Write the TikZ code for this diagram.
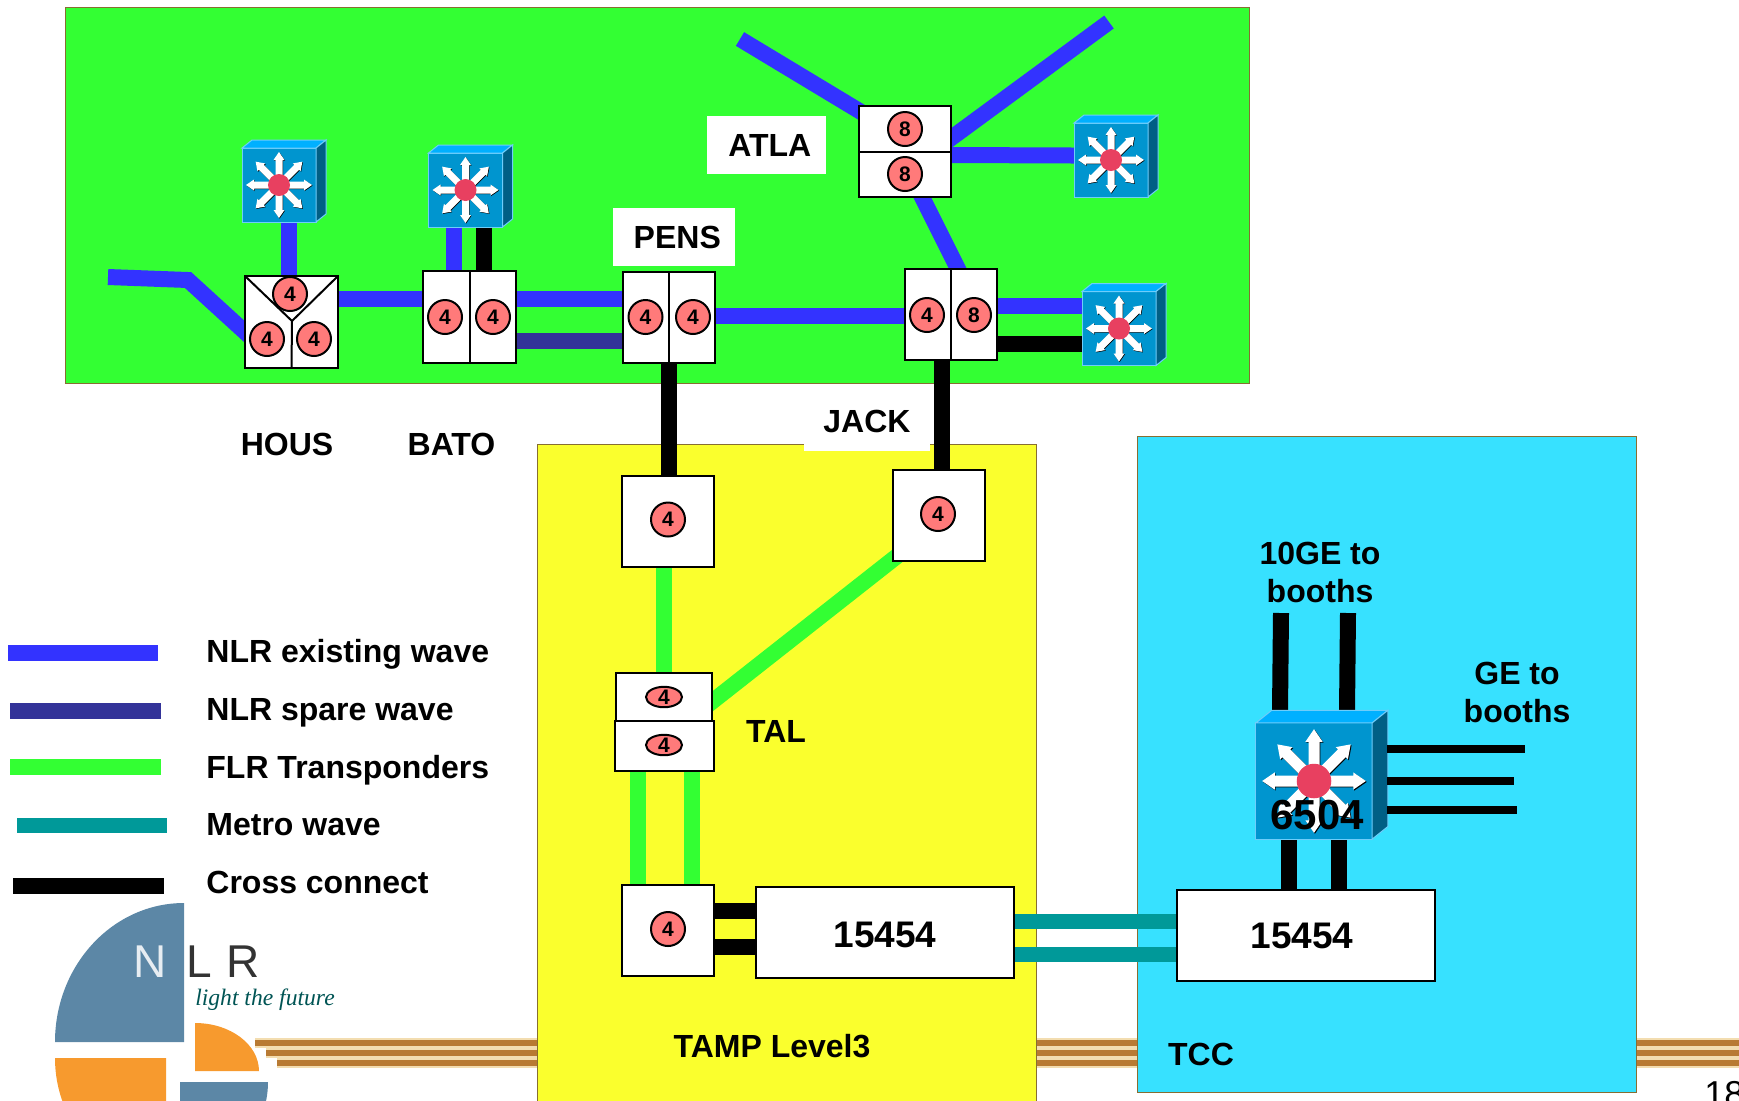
\documentclass[tikz,border=0pt]{standalone}
\usepackage{xcolor}
\usepackage{fontspec}
\setmainfont{Liberation Sans}
\newfontfamily\logoserif{Liberation Serif}
\usepackage{tikz}
\usetikzlibrary{shapes.geometric, calc, backgrounds}
\definecolor{nlrgreen}{RGB}{51,255,51}
\definecolor{nlryellow}{RGB}{250,255,45}
\definecolor{nlrcyan}{RGB}{55,225,255}
\definecolor{edgebrown}{RGB}{135,110,50}
\definecolor{waveblue}{RGB}{51,51,255}
\definecolor{sparenavy}{RGB}{51,51,153}
\definecolor{metroteal}{RGB}{0,153,153}
\definecolor{cntpink}{RGB}{255,122,122}
\definecolor{swface}{RGB}{0,149,207}
\definecolor{swtop}{RGB}{0,176,255}
\definecolor{swside}{RGB}{0,95,133}
\definecolor{swrim}{RGB}{110,205,250}
\definecolor{swred}{RGB}{232,64,96}
\definecolor{logoblue}{RGB}{92,135,166}
\definecolor{logoorange}{RGB}{247,154,46}
\definecolor{bandbrown}{RGB}{184,122,51}
\definecolor{bandpale}{RGB}{243,221,176}
\tikzset{
  panel/.style={draw=edgebrown, line width=0.5pt},
  muxbox/.style={rectangle, draw=black, fill=white, line width=1pt, inner sep=0pt, outer sep=0pt, font=\fontsize{18.5}{22}\selectfont\bfseries},
  cnt/.style={circle, draw=black, fill=cntpink, line width=1pt, minimum size=17pt, inner sep=0pt, font=\fontsize{10.5}{12}\selectfont\bfseries},
  cntoval/.style={ellipse, draw=black, fill=cntpink, line width=1pt, minimum width=18pt, minimum height=9pt, inner sep=0pt, font=\fontsize{10.5}{12}\selectfont\bfseries},
  lab/.style={font=\fontsize{16}{19}\selectfont\bfseries, align=center, inner sep=0pt},
  whitelab/.style={lab, fill=white},
  nlrwire/.style={draw=waveblue, line width=8pt},
  sparewire/.style={draw=sparenavy, line width=8pt},
  flrwire/.style={draw=nlrgreen, line width=8pt},
  metrowire/.style={draw=metroteal, line width=7.5pt},
  crosswire/.style={draw=black, line width=8pt},
  gewire/.style={draw=black, line width=4pt},
  bandout/.style={draw=bandpale, line width=5pt},
  bandin/.style={draw=bandbrown, line width=3.2pt},
  switchicon/.pic={
    \node[rectangle, draw=swrim, fill=swface, line width=0.5pt, minimum size=37pt, inner sep=0pt, outer sep=0pt, transform shape] (-face) at (0,0) {};
    \filldraw[draw=swrim, fill=swtop, line width=0.5pt] (-37,-37) -- (-27,-45) -- (47,-45) -- (37,-37) -- cycle;
    \filldraw[draw=swrim, fill=swside, line width=0.5pt] (37,-37) -- (47,-45) -- (47,29) -- (37,37) -- cycle;
    \foreach \ang in {0,45,...,315} {
      \fill[black, shift={(0.6,0.6)}, rotate=\ang] (0,-3.5) -- (25,-3.5) -- (25,-5.5) -- (33,0) -- (25,5.5) -- (25,3.5) -- (0,3.5) -- cycle;
      \fill[white, rotate=\ang] (0,-3.5) -- (25,-3.5) -- (25,-5.5) -- (33,0) -- (25,5.5) -- (25,3.5) -- (0,3.5) -- cycle;
    }
    \fill[swred] (0,0) circle (11);
  }
}

\begin{document}
\begin{tikzpicture}[x=0.5pt, y=-0.5pt]
  \useasboundingbox (0,0) rectangle (1739,1100);

  % Footer stripes and coloured panels
  \begin{scope}[on background layer]
    \draw[bandout] (255,1043) -- (1739,1043);
    \draw[bandout] (266,1053) -- (1739,1053);
    \draw[bandout] (277,1063) -- (1739,1063);
    \draw[bandin] (255,1043) -- (1739,1043);
    \draw[bandin] (266,1053) -- (1739,1053);
    \draw[bandin] (277,1063) -- (1739,1063);
    \filldraw[panel, fill=nlrgreen] (65,7.5) rectangle (1249.5,383);
    \filldraw[panel, fill=nlryellow] (537.5,444.5) rectangle (1036.5,1110);
    \filldraw[panel, fill=nlrcyan] (1137.5,436.5) rectangle (1636.5,1092.5);
  \end{scope}

  % Logo
  \fill[logoblue] (184,1042) -- (55,1042) arc[start angle=180, end angle=90, x radius=129, y radius=-139] -- cycle;
  \fill[logoorange] (195,1071) -- (195,1023) arc[start angle=90, end angle=0, x radius=64, y radius=-48] -- cycle;
  \fill[logoorange] (166,1058) -- (55,1058) arc[start angle=180, end angle=270, x radius=111, y radius=-120] -- cycle;
  \fill[logoblue] (180,1082) -- (268,1082) arc[start angle=0, end angle=-90, x radius=88, y radius=-90] -- cycle;
  \node[font=\fontsize{23}{26}\selectfont, text=white!85!logoblue, inner sep=0pt] (logon) at (150,962) {N};
  \node[font=\fontsize{23}{26}\selectfont, text=black!80, inner sep=0pt] (logol) at (199,962) {L};
  \node[font=\fontsize{23}{26}\selectfont, text=black!80, inner sep=0pt] (logor) at (243,962) {R};
  \node[font=\fontsize{11.8}{13}\selectfont\logoserif\itshape, text=black!45!metroteal, inner sep=0pt] (logotag) at (265,1000) {light the future};

  % Boxes in the green panel
  \node[muxbox, minimum width=46.5pt, minimum height=46pt] (hous) at (291.5,322) {};
  \node[muxbox, minimum width=46.5pt, minimum height=46pt] (bato) at (469.5,317) {};
  \node[muxbox, minimum width=46pt, minimum height=45.5pt] (pens) at (669,317.5) {};
  \node[muxbox, minimum width=46pt, minimum height=45.5pt] (jack) at (951,314.5) {};
  \node[muxbox, minimum width=46pt, minimum height=45.5pt] (atla) at (905,151.5) {};

  % Box dividers
  \coordinate (houshub) at (292,321);
  \draw[line width=1pt] (hous.north west) -- (houshub) -- (hous.north east);
  \draw[line width=1pt] (houshub) -- (hous.south);
  \draw[line width=1pt] (bato.north) -- (bato.south);
  \draw[line width=1pt] (pens.north) -- (pens.south);
  \draw[line width=1pt] (jack.north) -- (jack.south);
  \draw[line width=1pt] (atla.west) -- (atla.east);

  % Counters in the green panel
  \node[cnt] (housa) at (290,294) {4};
  \node[cnt] (housb) at (267,339) {4};
  \node[cnt] (housc) at (314,339) {4};
  \node[cnt] (batoa) at (445,317) {4};
  \node[cnt] (batob) at (493,317) {4};
  \node[cnt] (pensa) at (645.5,317) {4};
  \node[cnt] (pensb) at (693,317) {4};
  \node[cnt] (jacka) at (927,315) {4};
  \node[cnt] (jackb) at (974,315) {8};
  \node[cnt] (atlaa) at (905,129) {8};
  \node[cnt] (atlab) at (905,174) {8};

  % Switches
  \pic (swhous) at (279,185) {switchicon};
  \pic (swbato) at (465.5,190) {switchicon};
  \pic (swatla) at (1111,160) {switchicon};
  \pic (swjack) at (1119,328.5) {switchicon};
  \pic[scale=1.57] (swtcc) at (1314,781) {switchicon};
  \node[font=\fontsize{21}{24}\selectfont\bfseries, inner sep=0pt] (swtcclab) at (1317,815) {6504};

  % Boxes in the yellow panel
  \node[muxbox, minimum width=46pt, minimum height=45.5pt] (tamp) at (668,521.5) {};
  \node[muxbox, minimum width=46pt, minimum height=45.5pt] (jacklow) at (939,515.5) {};
  \node[muxbox, minimum width=48pt, minimum height=24pt] (talup) at (664,697) {};
  \node[muxbox, minimum width=49.5pt, minimum height=25pt] (tallow) at (664.5,746) {};
  \node[muxbox, minimum width=46pt, minimum height=45.5pt] (tamplow) at (668,930.5) {};
  \node[cnt] (tampa) at (668,519.5) {4};
  \node[cnt] (jacklowa) at (938,514) {4};
  \node[cntoval] (talupa) at (664,697) {4};
  \node[cntoval] (tallowa) at (664,745) {4};
  \node[cnt] (tamplowa) at (668,929) {4};
  \node[muxbox, minimum width=129pt, minimum height=45.5pt] (ontw) at (885,932.5) {\rule{0pt}{15.5pt}15454};
  \node[muxbox, minimum width=129pt, minimum height=45.5pt] (onte) at (1306,935.5) {\hspace{-4pt}15454};

  % White label patches and labels
  \begin{scope}[on background layer]
    \node[whitelab, minimum width=63pt, minimum height=29.5pt] (lbljack) at (867,421) {JACK};
  \end{scope}
  \node[whitelab, minimum width=59.5pt, minimum height=29pt] (lblatla) at (766.5,145) {\hspace{3.3pt}ATLA};
  \node[whitelab, minimum width=61pt, minimum height=29pt] (lblpens) at (674,237) {\hspace{3.3pt}PENS};
  \node[lab] (lblhous) at (287,444) {HOUS};
  \node[lab] (lblbato) at (451.5,444) {BATO};
  \node[lab] (lbltal) at (776,731) {TAL};
  \node[lab] (lbltamp) at (772,1046) {TAMP Level3};
  \node[lab] (lbltcc) at (1201,1054) {TCC};
  \node[lab] (lbltenge) at (1320,572.5) {10GE to\\[0pt]booths};
  \node[lab] (lblge) at (1517,692.5) {GE to\\[0pt]booths};
  \node[font=\fontsize{18}{21}\selectfont, anchor=base west, inner sep=0pt] (pagenum) at (1704,1106) {18};

  % Free ends of the connectors
  \coordinate (westlead) at (108,277);
  \coordinate (westbend) at (188,280);
  \coordinate (atlawest) at (740,39);
  \coordinate (atlaeast) at (1109,22);
  \coordinate (tena) at (1281,613);
  \coordinate (tenb) at (1348,613);
  \coordinate (gea) at (1525,749);
  \coordinate (geb) at (1514,781);
  \coordinate (gec) at (1517,810);

  % Connectors, under the boxes
  \begin{scope}[on background layer]
    \draw[nlrwire] (westlead) -- (westbend) -- ($(hous.west)+(12,21)$);
    \draw[nlrwire] ($(swhous-face.south)+(10,0)$) -- ($(hous.north)+(-2.5,0)$);
    \draw[nlrwire] ($(hous.east)+(0,-23)$) -- ($(bato.west)+(0,-18)$);
    \draw[nlrwire] ($(swbato-face.south)+(-11.5,0)$) -- ($(bato.north)+(-15.5,0)$);
    \draw[crosswire] ($(swbato-face.south)+(18.5,0)$) -- ($(bato.north)+(14.5,0)$);
    \draw[nlrwire] ($(bato.east)+(0,-18.5)$) -- ($(pens.west)+(0,-19)$);
    \draw[sparewire] ($(bato.east)+(0,24)$) -- ($(pens.west)+(0,23.5)$);
    \draw[nlrwire] ($(pens.east)+(0,-1.5)$) -- ($(jack.west)+(0,1.5)$);
    \draw[crosswire] (pens.south) -- ($(tamp.north)+(1,0)$);
    \draw[crosswire] ($(jack.south)+(-9.5,0)$) -- ($(jacklow.north)+(2.5,0)$);
    \draw[nlrwire] ($(jack.east)+(0,-8.5)$) -- ($(swjack-face.west)+(0,-22.5)$);
    \draw[crosswire] ($(jack.east)+(0,29.5)$) -- ($(swjack-face.west)+(0,15.5)$);
    \draw[nlrwire] ($(atla.south)+(15,-4)$) -- ($(jack.north)+(9,4)$);
    \draw[nlrwire] (atlawest) -- ($(atla.north west)+(12,12)$);
    \draw[nlrwire] (atlaeast) -- ($(atla.east)+(-14,-3)$);
    \draw[nlrwire] ($(atla.east)+(0,3.5)$) -- ($(swatla-face.west)+(0,-4.5)$);
    \draw[flrwire] ($(tamp.south)+(-4,0)$) -- (talup.north);
    \draw[flrwire] ($(jacklow.south)+(-38,-8)$) -- ($(talup.east)+(-8,11)$);
    \draw[flrwire] ($(tallow.south)+(-26.5,0)$) -- ($(tamplow.north)+(-30,0)$);
    \draw[flrwire] ($(tallow.south)+(27.5,0)$) -- ($(tamplow.north)+(24,0)$);
    \draw[crosswire] ($(tamplow.east)+(0,-20)$) -- ($(ontw.west)+(0,-22)$);
    \draw[crosswire] ($(tamplow.east)+(0,16.5)$) -- ($(ontw.west)+(0,14.5)$);
    \draw[metrowire] ($(ontw.east)+(0,-11)$) -- ($(onte.west)+(0,-14)$);
    \draw[metrowire] ($(ontw.east)+(0,21.5)$) -- ($(onte.west)+(0,18.5)$);
    \draw[crosswire] ($(swtcc-face.south)+(-25,0)$) -- ($(onte.north)+(-17,0)$);
    \draw[crosswire] ($(swtcc-face.south)+(25,0)$) -- ($(onte.north)+(33,0)$);
    \draw[crosswire] (tena) -- ($(swtcc-face.north)+(-34,-12)$);
    \draw[crosswire] (tenb) -- ($(swtcc-face.north)+(33,-12)$);
  \end{scope}
  \draw[gewire] ($(swtcc-face.east)+(15,-32)$) -- (gea);
  \draw[gewire] ($(swtcc-face.east)+(15,0)$) -- (geb);
  \draw[gewire] ($(swtcc-face.east)+(15,29)$) -- (gec);

  % Legend
  \coordinate (lega) at (8,653);
  \coordinate (legb) at (158,653);
  \coordinate (legc) at (10,711);
  \coordinate (legd) at (161,711);
  \coordinate (lege) at (10,767);
  \coordinate (legf) at (161,767);
  \coordinate (legg) at (17,825);
  \coordinate (legh) at (167,825);
  \coordinate (legi) at (13,886);
  \coordinate (legj) at (164,886);
  \draw[nlrwire] (lega) -- (legb);
  \draw[sparewire] (legc) -- (legd);
  \draw[flrwire] (lege) -- (legf);
  \draw[metrowire] (legg) -- (legh);
  \draw[crosswire] (legi) -- (legj);
  \node[lab, anchor=base west] (legnlr) at (206,662.5) {NLR existing wave};
  \node[lab, anchor=base west] (legspare) at (206,720) {NLR spare wave};
  \node[lab, anchor=base west] (legflr) at (206,778) {FLR Transponders};
  \node[lab, anchor=base west] (legmetro) at (206,835.5) {Metro wave};
  \node[lab, anchor=base west] (legcross) at (206,893) {Cross connect};
\end{tikzpicture}
\end{document}
